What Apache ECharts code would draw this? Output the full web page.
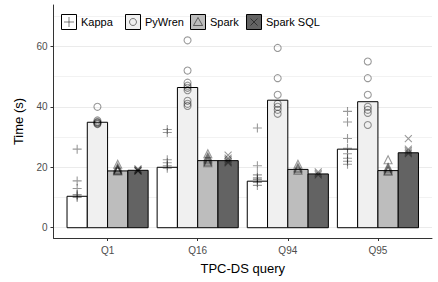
<!DOCTYPE html>
<html>
<head>
<meta charset="utf-8">
<script src="https://cdn.jsdelivr.net/npm/echarts@6/dist/echarts.min.js"></script>
<style>
  html, body { margin: 0; padding: 0; background: #fff; }
  #chart { width: 438px; height: 282px; }
</style>
</head>
<body>
<div id="chart"></div>
<script>
// --- data ---
const queries = ['Q1', 'Q16', 'Q94', 'Q95'];
const systems = ['Kappa', 'PyWren', 'Spark', 'Spark SQL'];

// bar heights per system, one per query
const kappaBars    = [10.4, 20.0, 15.4, 26.0];
const pywrenBars   = [34.9, 46.4, 42.2, 41.7];
const sparkBars    = [18.8, 22.2, 19.3, 18.9];
const sparkSqlBars = [19.0, 22.2, 17.8, 24.8];

// individual runs per system, one list per query
const kappaRuns = [
  [26, 15.5, 13, 11, 10.5, 10],
  [32.5, 31.5, 22.5, 21.5, 20.5, 19.7],
  [33, 20.5, 17.5, 16.5, 16, 15, 14],
  [38.5, 35, 29.5, 26.3, 24.5, 23, 22, 21],
];
const pywrenRuns = [
  [40, 35.5, 35, 34.8, 34.5, 34.3],
  [62, 52, 48, 47, 46.3, 45.5, 42, 41, 40.3],
  [59.5, 49.5, 44, 41, 40, 39, 37.7],
  [55, 49.5, 44, 40, 39, 38, 34],
];
const sparkRuns = [
  [21, 20, 19.5, 19, 18.8, 19.2],
  [24.5, 23.5, 23, 22.5, 22, 21.5],
  [21, 20, 19.5, 19],
  [22.5, 20, 19.5, 19, 18.7],
];
const sparkSqlRuns = [
  [19.5, 19, 18.8, 19.2, 18.7],
  [24, 23, 22.5, 22, 21.5],
  [18.5, 18, 17.5],
  [29.5, 26, 25.5, 25, 24.5],
];

const yTicks = [0, 20, 40, 60];
const yMinorTicks = [10, 30, 50, 70];

// --- style ---
const FONT = '"Liberation Sans", Arial, sans-serif';
const FILLS = ['#ffffff', '#f0f0f0', '#bdbdbd', '#636363'];
const PT = 'rgba(0,0,0,0.5)';
const PLUS = 'path://M0,5L10,5M5,0L5,10';
const CROSS = 'path://M0,0L10,10M10,0L0,10';
const SYMBOLS = [PLUS, 'circle', 'triangle', CROSS];
const SYM_SIZE = [9, 7, 8, 7];

// 4 bars share 0.9 of a category unit (ggplot dodge)
const BAR_W = 0.225;
const offset = (si) => (si - 1.5) * BAR_W;

const bars = [kappaBars, pywrenBars, sparkBars, sparkSqlBars];
const runs = [kappaRuns, pywrenRuns, sparkRuns, sparkSqlRuns];

const barSeries = systems.map((name, si) => ({
  name, type: 'custom', z: 2,
  data: bars[si].map((v, qi) => [qi + 1 + offset(si), v]),
  renderItem(params, api) {
    const x = api.value(0), y = api.value(1);
    const p0 = api.coord([x - BAR_W / 2, 0]);
    const p1 = api.coord([x + BAR_W / 2, y]);
    return {
      type: 'rect',
      shape: { x: p0[0], y: p1[1], width: p1[0] - p0[0], height: p0[1] - p1[1] },
      style: { fill: FILLS[si], stroke: '#000', lineWidth: 1 },
    };
  },
}));

const pointSeries = systems.map((name, si) => ({
  name: name + ' runs', type: 'scatter', z: 3,
  symbol: SYMBOLS[si], symbolSize: SYM_SIZE[si],
  itemStyle: { color: 'transparent', borderColor: PT, borderWidth: 1.1 },
  data: runs[si].flatMap((list, qi) => list.map((v) => [qi + 1 + offset(si), v])),
}));

// legend keys drawn by hand: ggplot style box with symbol inside
const LEG_X = [61, 125, 190, 246];
const LEG_Y = 14, BOX = 15;
function keySymbol(si, cx, cy) {
  const st = { stroke: PT, lineWidth: 1, fill: 'none' };
  if (si === 0) return [
    { type: 'line', shape: { x1: cx - 5, y1: cy, x2: cx + 5, y2: cy }, style: st },
    { type: 'line', shape: { x1: cx, y1: cy - 5, x2: cx, y2: cy + 5 }, style: st },
  ];
  if (si === 1) return [{ type: 'circle', shape: { cx, cy, r: 3.5 }, style: st }];
  if (si === 2) return [{ type: 'polygon',
    shape: { points: [[cx, cy - 4.5], [cx + 4.5, cy + 3.5], [cx - 4.5, cy + 3.5]] }, style: st }];
  return [
    { type: 'line', shape: { x1: cx - 3.5, y1: cy - 3.5, x2: cx + 3.5, y2: cy + 3.5 }, style: st },
    { type: 'line', shape: { x1: cx + 3.5, y1: cy - 3.5, x2: cx - 3.5, y2: cy + 3.5 }, style: st },
  ];
}
const legendGraphic = systems.flatMap((name, si) => {
  const x = LEG_X[si];
  return [
    { type: 'rect', z: 10, shape: { x: x + 0.5, y: LEG_Y + 0.5, width: BOX, height: BOX },
      style: { fill: FILLS[si], stroke: '#000', lineWidth: 1 } },
    ...keySymbol(si, x + 0.5 + BOX / 2, LEG_Y + 0.5 + BOX / 2).map((e) => Object.assign(e, { z: 11 })),
    { type: 'text', z: 11, x: x + BOX + 5, y: LEG_Y + BOX / 2 + 0.5,
      style: { text: name, fill: '#000', font: '11px ' + FONT, verticalAlign: 'middle' } },
  ];
});

const chart = echarts.init(document.getElementById('chart'), null, { renderer: 'svg' });
chart.setOption({
  animation: false,
  grid: { left: 53.5, right: 6, top: 5, bottom: 44 },
  xAxis: {
    type: 'value', min: 0.4, max: 4.6,
    name: 'TPC-DS query', nameLocation: 'middle', nameGap: 24,
    nameTextStyle: { color: '#000', fontSize: 13, fontFamily: FONT },
    axisLine: { onZero: false, lineStyle: { color: '#333', width: 1 } },
    axisTick: { customValues: [1, 2, 3, 4], length: 3, lineStyle: { color: '#333' } },
    axisLabel: { customValues: [1, 2, 3, 4], formatter: (v) => queries[Math.round(v) - 1],
      color: '#4d4d4d', fontSize: 10, fontFamily: FONT, margin: 7 },
    splitLine: { show: false },
  },
  yAxis: [{
    type: 'value', min: -3.4, max: 73.7,
    name: 'Time (s)', nameLocation: 'middle', nameGap: 26,
    nameTextStyle: { color: '#000', fontSize: 13, fontFamily: FONT },
    axisLine: { show: true, onZero: false, lineStyle: { color: '#333', width: 1 } },
    axisTick: { show: true, customValues: yTicks, length: 3, lineStyle: { color: '#333' } },
    axisLabel: { customValues: yTicks, color: '#4d4d4d', fontSize: 10, fontFamily: FONT, margin: 6 },
    splitLine: { show: true, lineStyle: { color: '#ebebeb', width: 1 } },
  }, {
    type: 'value', min: -3.4, max: 73.7, position: 'left',
    axisLine: { show: false }, axisLabel: { show: false },
    axisTick: { show: false, customValues: yMinorTicks },
    splitLine: { show: true, lineStyle: { color: '#f2f2f2', width: 1 } },
  }],
  series: [...barSeries, ...pointSeries],
  graphic: legendGraphic,
});
</script>
</body>
</html>
